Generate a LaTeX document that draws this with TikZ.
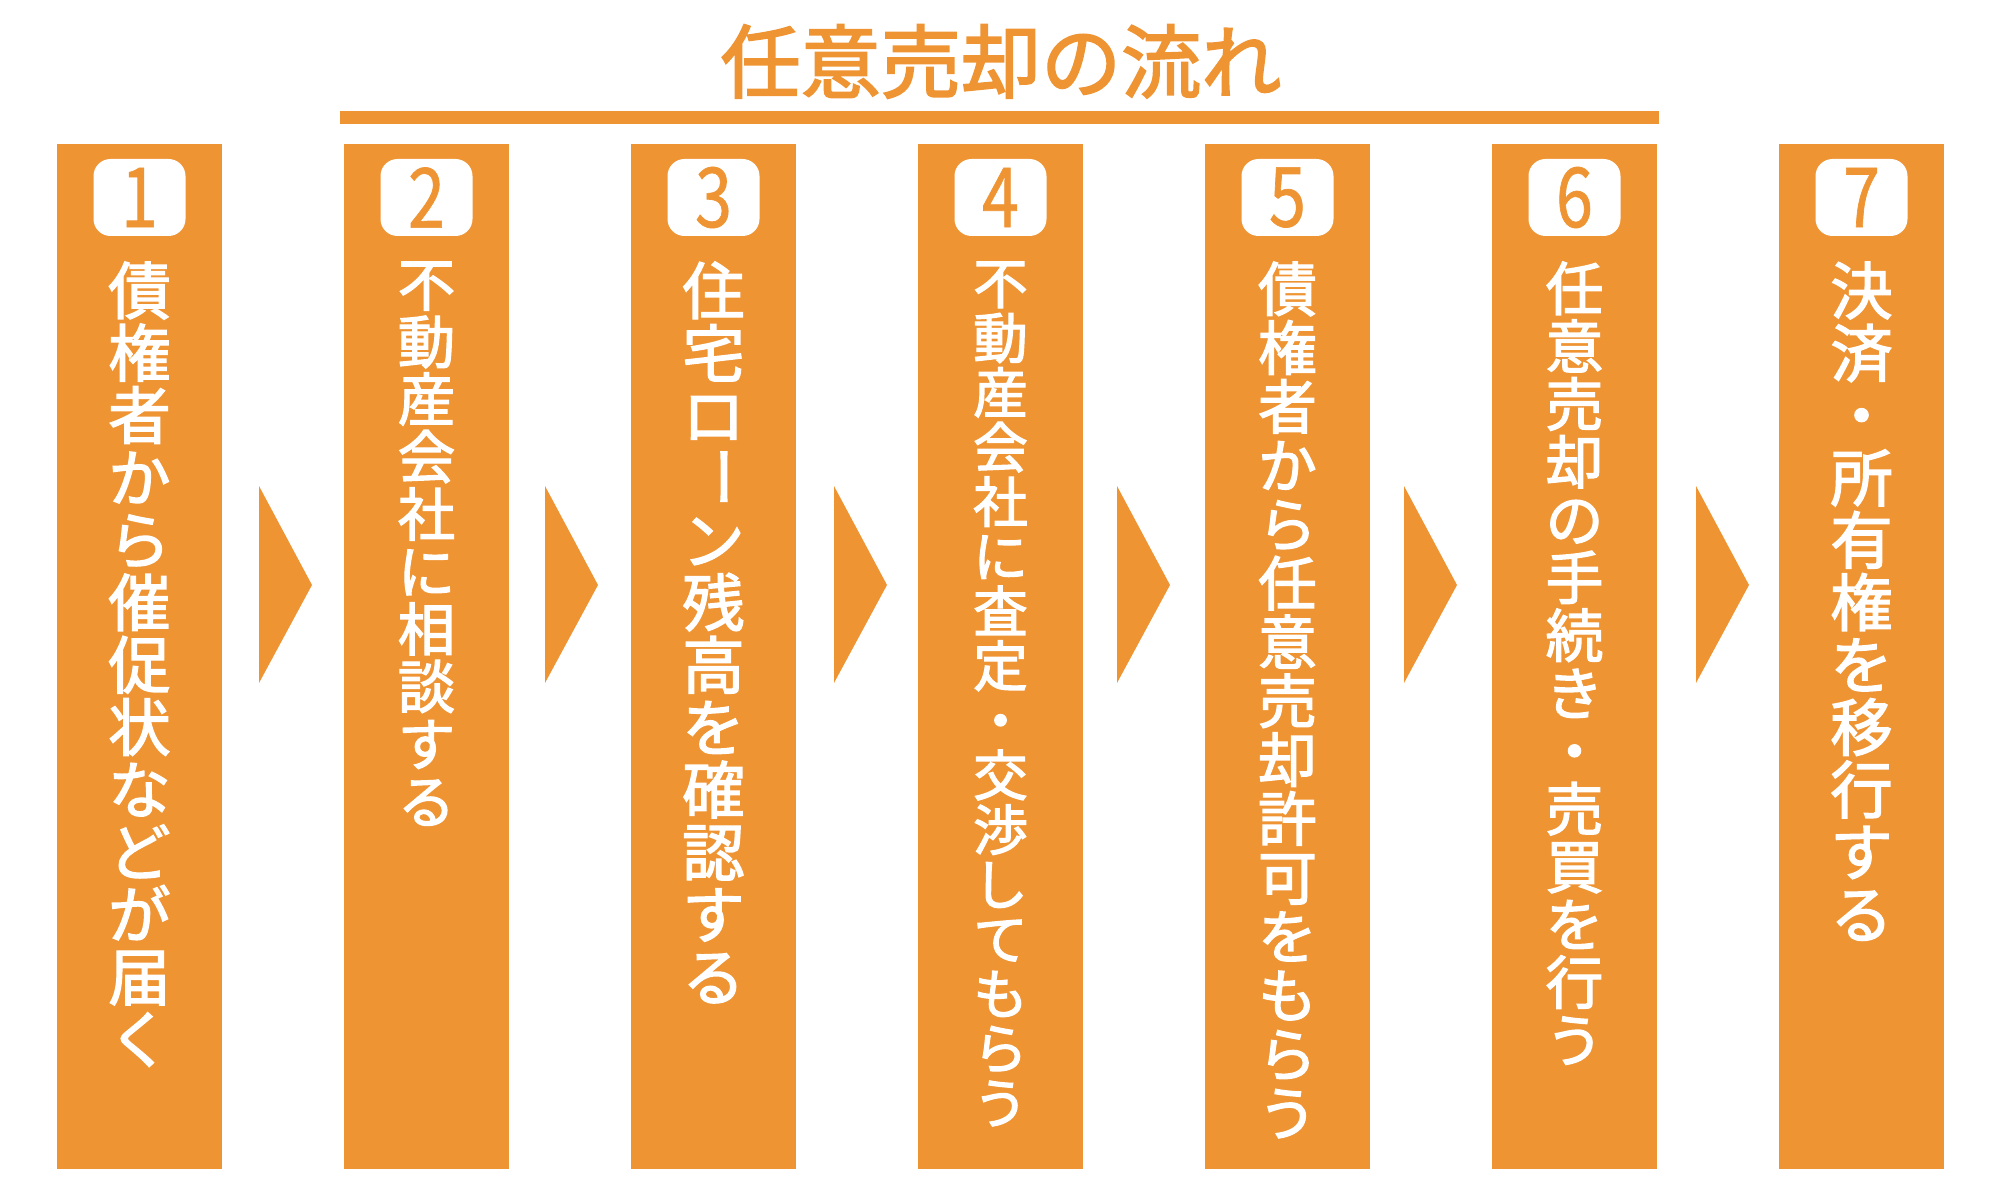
\documentclass[tikz,border=0pt]{standalone}
\usepackage{fontspec}
\setmainfont{Noto Sans CJK JP}[BoldFont={Noto Sans CJK JP}, BoldFeatures={FakeBold=2.2}]
\newfontfamily\numfont{Noto Sans CJK JP}[FakeStretch=0.8, FakeBold=0.8]
\usepackage{graphicx}
\usetikzlibrary{positioning}
\definecolor{saleorange}{RGB}{239,148,51}
\newcommand\tatebar{\raisebox{0.18em}[0.8em][0.1em]{\rotatebox[origin=c]{-90}{ー}}}
\newcommand\tightlines{\lineskiplimit=-1em\relax\lineskip=0pt\relax}

\begin{document}
\begin{tikzpicture}[font=\bfseries,
    stepbar/.style={rectangle, fill=saleorange, minimum width=1.65cm, minimum height=10.25cm, inner sep=0pt},
    numbadge/.style={rectangle, rounded corners=0.17cm, fill=white, minimum width=0.92cm, minimum height=0.77cm, inner sep=0pt, text=saleorange, font=\numfont\fontsize{23.6pt}{23.6pt}\selectfont},
    steptext/.style={text=white, font=\bfseries\fontsize{#1pt}{#1pt}\selectfont\tightlines, align=center, anchor=north, inner sep=0pt}
]
\useasboundingbox (0,0) rectangle (20,12);

% Title
\node[text=saleorange, font=\bfseries\fontsize{22.8pt}{22.8pt}\selectfont] (title) at (10.01,11.385) {任意売却の流れ};
\fill[saleorange] (3.40,10.76) rectangle (16.59,10.89);

% Steps (left to right)
\node[stepbar] (bar1) at (1.395,5.435) {};
\node[numbadge] (num1) at (1.395,10.025) {1};
\node[steptext=17.75] (txt1) at (1.395,9.39) {債\\権\\者\\か\\ら\\催\\促\\状\\な\\ど\\が\\届\\く};

\node[stepbar] (bar2) at (4.265,5.435) {};
\node[numbadge] (num2) at (4.265,10.025) {2};
\node[steptext=16.35] (txt2) at (4.265,9.39) {不\\動\\産\\会\\社\\に\\相\\談\\す\\る};

\node[stepbar] (bar3) at (7.135,5.435) {};
\node[numbadge] (num3) at (7.135,10.025) {3};
\node[steptext=17.75] (txt3) at (7.135,9.39) {住\\宅\\ロ\\\tatebar\\ン\\残\\高\\を\\確\\認\\す\\る};

\node[stepbar] (bar4) at (10.005,5.435) {};
\node[numbadge] (num4) at (10.005,10.025) {4};
\node[steptext=15.55] (txt4) at (10.005,9.39) {不\\動\\産\\会\\社\\に\\査\\定\\・\\交\\渉\\し\\て\\も\\ら\\う};

\node[stepbar] (bar5) at (12.875,5.435) {};
\node[numbadge] (num5) at (12.875,10.025) {5};
\node[steptext=16.75] (txt5) at (12.875,9.39) {債\\権\\者\\か\\ら\\任\\意\\売\\却\\許\\可\\を\\も\\ら\\う};

\node[stepbar] (bar6) at (15.745,5.435) {};
\node[numbadge] (num6) at (15.745,10.025) {6};
\node[steptext=16.45] (txt6) at (15.745,9.39) {任\\意\\売\\却\\の\\手\\続\\き\\・\\売\\買\\を\\行\\う};

\node[stepbar] (bar7) at (18.615,5.435) {};
\node[numbadge] (num7) at (18.615,10.025) {7};
\node[steptext=17.75] (txt7) at (18.615,9.39) {決\\済\\・\\所\\有\\権\\を\\移\\行\\す\\る};

% Chevrons between steps
\fill[saleorange] (2.59,7.14) -- (3.12,6.15) -- (2.59,5.17) -- cycle;
\fill[saleorange] (5.45,7.14) -- (5.98,6.15) -- (5.45,5.17) -- cycle;
\fill[saleorange] (8.34,7.14) -- (8.87,6.15) -- (8.34,5.17) -- cycle;
\fill[saleorange] (11.17,7.14) -- (11.70,6.15) -- (11.17,5.17) -- cycle;
\fill[saleorange] (14.04,7.14) -- (14.57,6.15) -- (14.04,5.17) -- cycle;
\fill[saleorange] (16.96,7.14) -- (17.49,6.15) -- (16.96,5.17) -- cycle;
\end{tikzpicture}
\end{document}
